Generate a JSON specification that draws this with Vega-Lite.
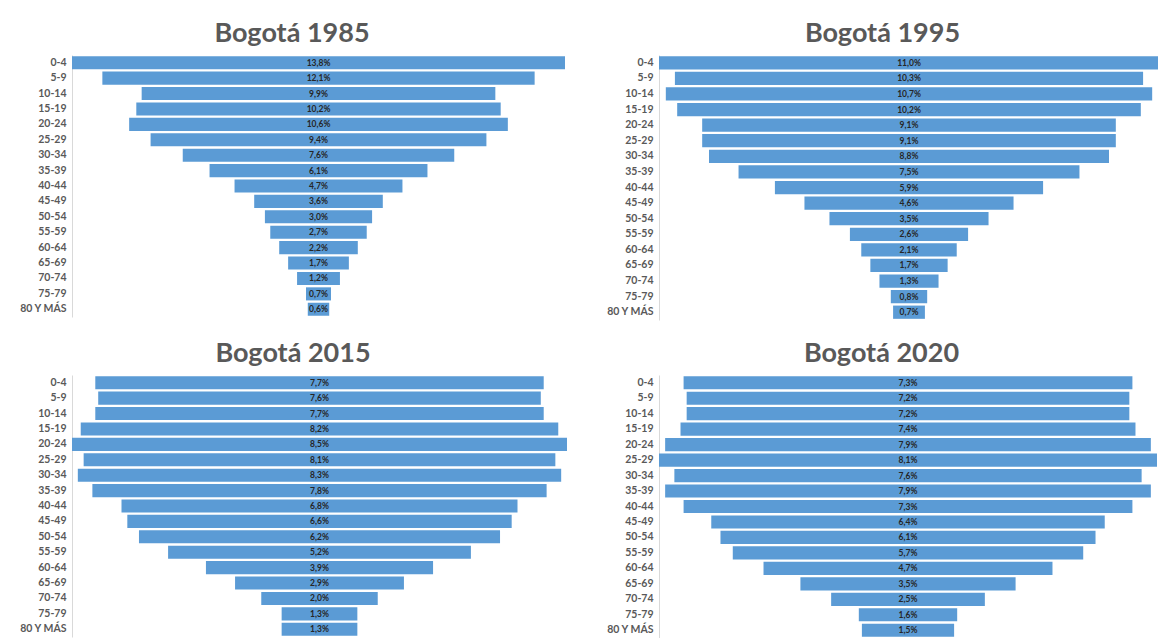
{
  "$schema": "https://vega.github.io/schema/vega-lite/v6.json",
  "background": "white",
  "padding": {"left": 18, "top": 19, "right": 0, "bottom": 0},
  "config": {
    "locale": {"number": {"decimal": ",", "thousands": ".", "grouping": [3], "currency": ["$", ""]}},
    "view": {"stroke": null},
    "font": "Lato",
    "title": {"font": "Lato", "fontSize": 27, "fontWeight": "bold", "color": "#595959", "offset": 7.5, "anchor": "middle", "frame": "bounds"},
    "axisY": {"title": null, "ticks": false, "grid": false, "domain": true, "domainColor": "#d9d9d9", "domainWidth": 1, "labelFont": "Lato", "labelFontSize": 10.5, "labelFontWeight": "bold", "labelColor": "#595959", "labelPadding": 6, "minExtent": 52, "maxExtent": 52},
    "bar": {"color": "#5B9BD5"},
    "text": {"font": "Lato", "fontSize": 8.5, "fontWeight": "bold", "color": "#262626", "align": "center", "baseline": "middle"}
  },
  "datasets": {
    "d1985": [
      {"age": "0-4", "value": 0.138}, {"age": "5-9", "value": 0.121}, {"age": "10-14", "value": 0.099}, {"age": "15-19", "value": 0.102},
      {"age": "20-24", "value": 0.106}, {"age": "25-29", "value": 0.094}, {"age": "30-34", "value": 0.076}, {"age": "35-39", "value": 0.061},
      {"age": "40-44", "value": 0.047}, {"age": "45-49", "value": 0.036}, {"age": "50-54", "value": 0.030}, {"age": "55-59", "value": 0.027},
      {"age": "60-64", "value": 0.022}, {"age": "65-69", "value": 0.017}, {"age": "70-74", "value": 0.012}, {"age": "75-79", "value": 0.007},
      {"age": "80 Y MÁS", "value": 0.006}
    ],
    "d1995": [
      {"age": "0-4", "value": 0.110}, {"age": "5-9", "value": 0.103}, {"age": "10-14", "value": 0.107}, {"age": "15-19", "value": 0.102},
      {"age": "20-24", "value": 0.091}, {"age": "25-29", "value": 0.091}, {"age": "30-34", "value": 0.088}, {"age": "35-39", "value": 0.075},
      {"age": "40-44", "value": 0.059}, {"age": "45-49", "value": 0.046}, {"age": "50-54", "value": 0.035}, {"age": "55-59", "value": 0.026},
      {"age": "60-64", "value": 0.021}, {"age": "65-69", "value": 0.017}, {"age": "70-74", "value": 0.013}, {"age": "75-79", "value": 0.008},
      {"age": "80 Y MÁS", "value": 0.007}
    ],
    "d2015": [
      {"age": "0-4", "value": 0.077}, {"age": "5-9", "value": 0.076}, {"age": "10-14", "value": 0.077}, {"age": "15-19", "value": 0.082},
      {"age": "20-24", "value": 0.085}, {"age": "25-29", "value": 0.081}, {"age": "30-34", "value": 0.083}, {"age": "35-39", "value": 0.078},
      {"age": "40-44", "value": 0.068}, {"age": "45-49", "value": 0.066}, {"age": "50-54", "value": 0.062}, {"age": "55-59", "value": 0.052},
      {"age": "60-64", "value": 0.039}, {"age": "65-69", "value": 0.029}, {"age": "70-74", "value": 0.020}, {"age": "75-79", "value": 0.013},
      {"age": "80 Y MÁS", "value": 0.013}
    ],
    "d2020": [
      {"age": "0-4", "value": 0.073}, {"age": "5-9", "value": 0.072}, {"age": "10-14", "value": 0.072}, {"age": "15-19", "value": 0.074},
      {"age": "20-24", "value": 0.079}, {"age": "25-29", "value": 0.081}, {"age": "30-34", "value": 0.076}, {"age": "35-39", "value": 0.079},
      {"age": "40-44", "value": 0.073}, {"age": "45-49", "value": 0.064}, {"age": "50-54", "value": 0.061}, {"age": "55-59", "value": 0.057},
      {"age": "60-64", "value": 0.047}, {"age": "65-69", "value": 0.035}, {"age": "70-74", "value": 0.025}, {"age": "75-79", "value": 0.016},
      {"age": "80 Y MÁS", "value": 0.015}
    ]
  },
  "vconcat": [
    {
      "spacing": 40,
      "hconcat": [
        {
          "title": "Bogotá 1985",
          "width": 493, "height": 262,
          "data": {"name": "d1985"},
          "encoding": {
            "y": {"field": "age", "type": "nominal", "sort": null, "scale": {"paddingInner": 0.15, "paddingOuter": 0.075}},
            "x": {"field": "value", "type": "quantitative", "stack": "center", "axis": null, "scale": {"nice": false}}
          },
          "layer": [
            {"mark": {"type": "bar"}},
            {"mark": {"type": "text"}, "encoding": {"x": {"field": "value", "type": "quantitative", "stack": "center", "bandPosition": 0.5}, "text": {"field": "value", "type": "quantitative", "format": ".1%"}}}
          ]
        },
        {
          "title": "Bogotá 1995",
          "width": 500, "height": 265,
          "data": {"name": "d1995"},
          "encoding": {
            "y": {"field": "age", "type": "nominal", "sort": null, "scale": {"paddingInner": 0.15, "paddingOuter": 0.075}},
            "x": {"field": "value", "type": "quantitative", "stack": "center", "axis": null, "scale": {"nice": false}}
          },
          "layer": [
            {"mark": {"type": "bar"}},
            {"mark": {"type": "text"}, "encoding": {"x": {"field": "value", "type": "quantitative", "stack": "center", "bandPosition": 0.5}, "text": {"field": "value", "type": "quantitative", "format": ".1%"}}}
          ]
        }
      ]
    },
    {
      "spacing": 38,
      "hconcat": [
        {
          "title": "Bogotá 2015",
          "width": 495, "height": 262,
          "data": {"name": "d2015"},
          "encoding": {
            "y": {"field": "age", "type": "nominal", "sort": null, "scale": {"paddingInner": 0.15, "paddingOuter": 0.075}},
            "x": {"field": "value", "type": "quantitative", "stack": "center", "axis": null, "scale": {"nice": false}}
          },
          "layer": [
            {"mark": {"type": "bar"}},
            {"mark": {"type": "text"}, "encoding": {"x": {"field": "value", "type": "quantitative", "stack": "center", "bandPosition": 0.5}, "text": {"field": "value", "type": "quantitative", "format": ".1%"}}}
          ]
        },
        {
          "title": "Bogotá 2020",
          "width": 498, "height": 263,
          "data": {"name": "d2020"},
          "encoding": {
            "y": {"field": "age", "type": "nominal", "sort": null, "scale": {"paddingInner": 0.15, "paddingOuter": 0.075}},
            "x": {"field": "value", "type": "quantitative", "stack": "center", "axis": null, "scale": {"nice": false}}
          },
          "layer": [
            {"mark": {"type": "bar"}},
            {"mark": {"type": "text"}, "encoding": {"x": {"field": "value", "type": "quantitative", "stack": "center", "bandPosition": 0.5}, "text": {"field": "value", "type": "quantitative", "format": ".1%"}}}
          ]
        }
      ]
    }
  ],
  "spacing": 19
}
